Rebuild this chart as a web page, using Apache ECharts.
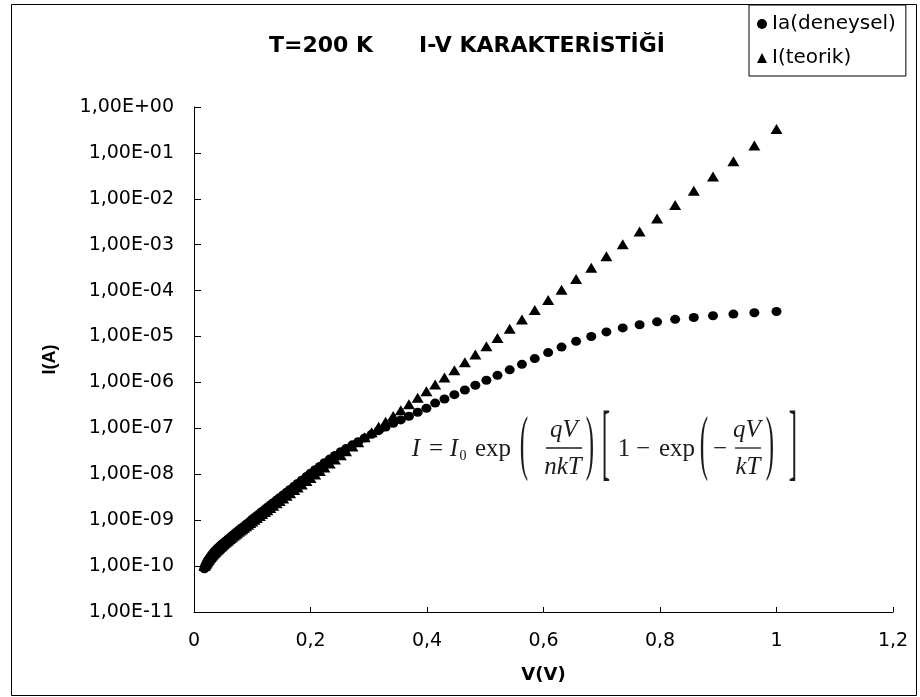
<!DOCTYPE html>
<html>
<head>
<meta charset="utf-8">
<script src="https://cdn.jsdelivr.net/npm/echarts@6/dist/echarts.min.js"></script>
<style>
  html, body { margin: 0; padding: 0; background: #fff; }
  #chart { width: 920px; height: 697px; }
</style>
</head>
<body>
<div id="chart"></div>
<script>
// Forward bias sweep, T = 200 K
const voltage = [
  0.0179, 0.0186, 0.0193, 0.0201, 0.0208, 0.0216, 0.0225, 0.0234, 0.0243, 0.0252,
  0.0262, 0.0273, 0.0283, 0.0294, 0.0306, 0.0318, 0.0330, 0.0343, 0.0357, 0.0371,
  0.0385, 0.0400, 0.0416, 0.0432, 0.0449, 0.0467, 0.0485, 0.0504, 0.0524, 0.0544,
  0.0565, 0.0587, 0.0610, 0.0634, 0.0659, 0.0685, 0.0711, 0.0739, 0.0768, 0.0798,
  0.0829, 0.0861, 0.0895, 0.0930, 0.0966, 0.100, 0.104, 0.108, 0.113, 0.117,
  0.122, 0.126, 0.131, 0.136, 0.142, 0.147, 0.153, 0.159, 0.165, 0.172,
  0.178, 0.185, 0.193, 0.200, 0.208, 0.216, 0.224, 0.233, 0.242, 0.252,
  0.261, 0.272, 0.282, 0.293, 0.305, 0.317, 0.329, 0.342, 0.355, 0.369,
  0.384, 0.399, 0.414, 0.430, 0.447, 0.465, 0.483, 0.502, 0.521, 0.542,
  0.563, 0.585, 0.608, 0.631, 0.656, 0.682, 0.708, 0.736, 0.765, 0.795,
  0.826, 0.858, 0.891, 0.926, 0.962, 1.000
];

// Measured current Ia (A)
const currentMeasured = [
  8.71e-11, 9.33e-11, 1.00e-10, 1.05e-10, 1.10e-10, 1.15e-10, 1.20e-10, 1.26e-10, 1.32e-10, 1.38e-10,
  1.45e-10, 1.51e-10, 1.58e-10, 1.66e-10, 1.74e-10, 1.82e-10, 1.91e-10, 2.00e-10, 2.09e-10, 2.19e-10,
  2.29e-10, 2.40e-10, 2.51e-10, 2.63e-10, 2.75e-10, 2.88e-10, 3.02e-10, 3.16e-10, 3.31e-10, 3.47e-10,
  3.63e-10, 3.89e-10, 4.07e-10, 4.37e-10, 4.57e-10, 4.90e-10, 5.25e-10, 5.62e-10, 6.03e-10, 6.46e-10,
  6.92e-10, 7.41e-10, 8.13e-10, 8.71e-10, 9.55e-10, 1.05e-9, 1.15e-9, 1.26e-9, 1.41e-9, 1.55e-9,
  1.74e-9, 1.91e-9, 2.14e-9, 2.40e-9, 2.75e-9, 3.09e-9, 3.55e-9, 4.07e-9, 4.68e-9, 5.50e-9,
  6.31e-9, 7.41e-9, 8.91e-9, 1.05e-8, 1.26e-8, 1.48e-8, 1.78e-8, 2.14e-8, 2.57e-8, 3.09e-8,
  3.63e-8, 4.37e-8, 5.13e-8, 6.17e-8, 7.41e-8, 8.91e-8, 1.07e-7, 1.29e-7, 1.53e-7, 1.84e-7,
  2.24e-7, 2.75e-7, 3.55e-7, 4.37e-7, 5.43e-7, 6.84e-7, 8.71e-7, 1.12e-6, 1.43e-6, 1.88e-6,
  2.48e-6, 3.31e-6, 4.47e-6, 5.89e-6, 7.85e-6, 1.00e-5, 1.26e-5, 1.54e-5, 1.81e-5, 2.09e-5,
  2.37e-5, 2.60e-5, 2.84e-5, 3.08e-5, 3.30e-5, 3.51e-5
];

// Theoretical current I (A)
const currentTheory = [
  1.00e-10, 1.04e-10, 1.08e-10, 1.12e-10, 1.16e-10, 1.20e-10, 1.25e-10, 1.30e-10, 1.35e-10, 1.40e-10,
  1.46e-10, 1.51e-10, 1.57e-10, 1.63e-10, 1.71e-10, 1.77e-10, 1.85e-10, 1.92e-10, 2.00e-10, 2.08e-10,
  2.18e-10, 2.27e-10, 2.37e-10, 2.48e-10, 2.60e-10, 2.72e-10, 2.85e-10, 2.99e-10, 3.15e-10, 3.30e-10,
  3.48e-10, 3.66e-10, 3.87e-10, 4.09e-10, 4.34e-10, 4.61e-10, 4.89e-10, 5.21e-10, 5.57e-10, 5.96e-10,
  6.38e-10, 6.85e-10, 7.40e-10, 7.98e-10, 8.65e-10, 9.33e-10, 1.02e-9, 1.11e-9, 1.24e-9, 1.36e-9,
  1.51e-9, 1.65e-9, 1.84e-9, 2.06e-9, 2.34e-9, 2.61e-9, 2.98e-9, 3.40e-9, 3.87e-9, 4.52e-9,
  5.15e-9, 6.00e-9, 7.14e-9, 8.34e-9, 9.93e-9, 1.18e-8, 1.41e-8, 1.71e-8, 2.09e-8, 2.60e-8,
  3.16e-8, 4.03e-8, 5.01e-8, 6.37e-8, 8.28e-8, 1.08e-7, 1.40e-7, 1.86e-7, 2.47e-7, 3.36e-7,
  4.67e-7, 6.47e-7, 8.99e-7, 1.28e-6, 1.85e-6, 2.74e-6, 4.06e-6, 6.17e-6, 9.33e-6, 1.48e-5,
  2.34e-5, 3.78e-5, 6.27e-5, 1.04e-4, 1.79e-4, 3.16e-4, 5.58e-4, 1.03e-3, 1.94e-3, 3.74e-3,
  7.38e-3, 1.49e-2, 3.05e-2, 6.58e-2, 1.45e-1, 3.32e-1
];

const seriesNames = ['Ia(deneysel)', 'I(teorik)'];
const xTickLabels = ['0', '0,2', '0,4', '0,6', '0,8', '1', '1,2'];
const yTickLabels = [
  '1,00E-11', '1,00E-10', '1,00E-09', '1,00E-08', '1,00E-07', '1,00E-06',
  '1,00E-05', '1,00E-04', '1,00E-03', '1,00E-02', '1,00E-01', '1,00E+00'
];
const titleText = 'T=200 K      I-V KARAKTERİSTİĞİ';

const sans = 'DejaVu Sans';
const serif = 'Liberation Serif';
const ink = '#000';

const pairs = arr => voltage.map((v, i) => [v, arr[i]]);

// Diode equation drawn as typeset pieces
const formulaInk = '#1c1c1c';
function ftext(t, x, y, opts) {
  opts = opts || {};
  const size = opts.size || 25;
  const el = {
    type: 'text', x: x, y: y, z: 50, silent: true,
    style: {
      text: t, fontFamily: serif, fontSize: size,
      fontStyle: opts.italic ? 'italic' : 'normal',
      fill: formulaInk,
      align: 'center', verticalAlign: 'middle',
      textAlign: 'center', textVerticalAlign: 'middle'
    }
  };
  if (opts.scaleY) { el.scaleY = opts.scaleY; el.scaleX = opts.scaleX || 1; }
  return el;
}
function fline(x1, x2, y) {
  return { type: 'line', z: 50, silent: true, shape: { x1: x1, y1: y, x2: x2, y2: y },
           style: { stroke: formulaInk, lineWidth: 1.3 } };
}
const mainY = 449, numY = 430, denY = 467, barY = 448;
const formula = [
  ftext('I', 416, mainY, { italic: true }),
  ftext('=', 436, mainY),
  ftext('I', 454, mainY, { italic: true }),
  ftext('0', 463, mainY + 7, { size: 14 }),
  ftext('exp', 493, mainY),
  ftext('(', 524, mainY - 2, { scaleY: 2.9 }),
  ftext('qV', 564, numY, { italic: true }),
  fline(546, 582, barY),
  ftext('nkT', 563, denY, { italic: true }),
  ftext(')', 590, mainY - 2, { scaleY: 2.9 }),
  ftext('[', 606, mainY - 1, { scaleY: 3.4 }),
  ftext('1', 624, mainY),
  ftext('\u2212', 643, mainY),
  ftext('exp', 677, mainY),
  ftext('(', 704, mainY - 2, { scaleY: 2.9 }),
  ftext('\u2212', 720, mainY),
  ftext('qV', 747, numY, { italic: true }),
  fline(735, 761, barY),
  ftext('kT', 748, denY, { italic: true }),
  ftext(')', 770, mainY - 2, { scaleY: 2.9 }),
  ftext(']', 793, mainY - 1, { scaleY: 3.4 })
];

const chart = echarts.init(document.getElementById('chart'), null, { renderer: 'canvas' });

chart.setOption({
  animation: false,
  backgroundColor: '#fff',
  grid: { left: 194, right: 27, top: 107, bottom: 85, containLabel: false },
  legend: {
    orient: 'vertical',
    left: 749, top: 5,
    padding: [9, 10, 8, 8],
    itemGap: 14,
    itemWidth: 10, itemHeight: 10,
    borderColor: ink, borderWidth: 1,
    backgroundColor: '#fff',
    textStyle: { fontFamily: sans, fontSize: 20, color: ink },
    data: [
      { name: seriesNames[0], icon: 'circle' },
      { name: seriesNames[1], icon: 'triangle' }
    ]
  },
  xAxis: {
    type: 'value', min: 0, max: 1.2, interval: 0.2,
    name: 'V(V)', nameLocation: 'middle', nameGap: 54,
    nameTextStyle: { fontFamily: sans, fontSize: 18, fontWeight: 'bold', color: ink },
    axisLine: { onZero: false, lineStyle: { color: ink, width: 1 } },
    axisTick: { inside: true, length: 5, lineStyle: { color: ink } },
    splitLine: { show: false },
    axisLabel: {
      margin: 20, fontFamily: sans, fontSize: 19, color: ink,
      formatter: v => xTickLabels[Math.round(v / 0.2)]
    }
  },
  yAxis: {
    type: 'log', logBase: 10, min: 1e-11, max: 1, interval: 1, splitNumber: 11,
    name: 'I(A)', nameLocation: 'middle', nameGap: 135, nameRotate: 90,
    nameTextStyle: { fontFamily: 'Liberation Sans', fontSize: 18, fontWeight: 'bold', color: ink },
    axisLine: { show: true, lineStyle: { color: ink, width: 1 } },
    axisTick: { show: true, inside: true, length: 7, lineStyle: { color: ink } },
    splitLine: { show: false },
    minorTick: { show: false },
    axisLabel: {
      margin: 20, fontFamily: sans, fontSize: 19, color: ink,
      formatter: v => yTickLabels[Math.round(Math.log10(v)) + 11]
    }
  },
  series: [
    {
      name: seriesNames[0], type: 'scatter',
      symbol: 'circle', symbolSize: [10, 9],
      itemStyle: { color: ink, opacity: 1 },
      data: pairs(currentMeasured), z: 3
    },
    {
      name: seriesNames[1], type: 'scatter',
      symbol: 'triangle', symbolSize: [12, 10],
      itemStyle: { color: ink, opacity: 1 },
      data: pairs(currentTheory), z: 2
    }
  ],
  graphic: [
    {
      type: 'rect', z: -1, silent: true,
      shape: { x: 11.5, y: 4.5, width: 905, height: 691 },
      style: { fill: null, stroke: ink, lineWidth: 1 }
    },
    {
      type: 'text', x: 467, y: 46, silent: true,
      style: {
        text: titleText, fontFamily: sans, fontSize: 22, fontWeight: 'bold', fill: ink,
        align: 'center', verticalAlign: 'middle', textAlign: 'center', textVerticalAlign: 'middle'
      }
    }
  ].concat(formula)
});
</script>
</body>
</html>
